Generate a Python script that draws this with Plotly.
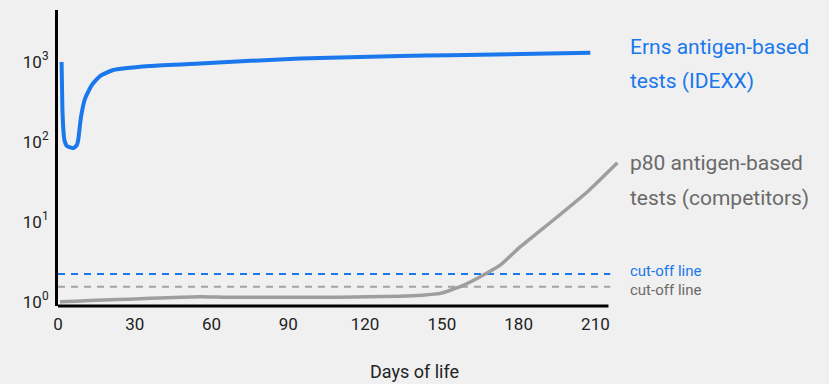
import plotly.graph_objects as go

# ---- data ----
erns_days = [1.4, 1.7, 2.1, 2.5, 3.5, 6.0, 7.4, 7.9, 9.0, 10.6, 13.2, 16.4, 21.6, 36, 55.5, 94.6, 133.7, 153.3, 208]
erns_vals = [990, 274, 140, 105, 88, 83, 91, 105, 205, 347, 510, 660, 788, 883, 952, 1097, 1176, 1205, 1294]

p80_days = [0.8, 55.5, 66, 110, 133.7, 142.4, 149.4, 157.2, 165, 172.9, 180.7, 193.6, 206.9, 218.6]
p80_vals = [1.0, 1.155, 1.135, 1.14, 1.168, 1.205, 1.27, 1.54, 2.05, 2.88, 4.87, 10.5, 23.7, 54.6]

cutoff_days = [0, 215.8]
erns_cutoff = 2.22
p80_cutoff = 1.54

x_ticks = [0, 30, 60, 90, 120, 150, 180, 210]
y_ticks = [1, 10, 100, 1000]
y_ticktext = ["10<sup>0</sup>", "10<sup>1</sup>", "10<sup>2</sup>", "10<sup>3</sup>"]

BLUE = "#1a78ec"
GRAY = "#9e9e9e"
GRAY_TXT = "#6a6a6a"
FONT = "Roboto"

fig = go.Figure()
fig.add_trace(go.Scatter(x=cutoff_days, y=[erns_cutoff] * 2, mode="lines",
                         line=dict(color=BLUE, width=2, dash="7px,6px"), hoverinfo="skip"))
fig.add_trace(go.Scatter(x=cutoff_days, y=[p80_cutoff] * 2, mode="lines",
                         line=dict(color="#a3a3a3", width=2, dash="7px,6px"), hoverinfo="skip"))
fig.add_trace(go.Scatter(x=p80_days, y=p80_vals, mode="lines",
                         line=dict(color=GRAY, width=3.5, shape="spline", smoothing=0.4)))
fig.add_trace(go.Scatter(x=erns_days, y=erns_vals, mode="lines",
                         line=dict(color=BLUE, width=4, shape="spline", smoothing=0.5)))

# x-axis line (only to day ~215)
fig.add_shape(type="line", xref="x", yref="paper", x0=-0.6, x1=215.1, y0=0, y1=0,
              line=dict(color="black", width=3))


def py(p):
    return (306 - p) / 296.0


def px(p):
    return (p - 58) / 562.6


annots = [
    ("Erns antigen-based", 47, BLUE, 21),
    ("tests (IDEXX)", 81, BLUE, 21),
    ("p80 antigen-based", 163, GRAY_TXT, 21),
    ("tests (competitors)", 198, GRAY_TXT, 21),
    ("cut-off line", 271, BLUE, 15),
    ("cut-off line", 290, GRAY_TXT, 15),
]
for txt, yy, col, sz in annots:
    fig.add_annotation(text=txt, xref="paper", yref="paper", x=px(628), y=py(yy),
                       xanchor="left", yanchor="middle", showarrow=False,
                       font=dict(family=FONT, size=sz, color=col))

fig.add_annotation(text="Days of life", xref="paper", yref="paper", x=px(414.5), y=py(371),
                   xanchor="center", yanchor="middle", showarrow=False,
                   font=dict(family=FONT, size=18, color="#222222"))

fig.update_layout(
    width=829, height=384,
    margin=dict(l=58, r=208, t=10, b=78),
    paper_bgcolor="#f0f0f0", plot_bgcolor="#f0f0f0",
    showlegend=False,
    font=dict(family=FONT, color="#222222"),
    xaxis=dict(range=[0, 220], tickvals=x_ticks, showgrid=False, zeroline=False,
               showline=False, ticks="", tickfont=dict(size=17, color="#222222"),
               ticklabelstandoff=6),
    yaxis=dict(type="log", range=[-0.054, 3.646], tickvals=y_ticks, ticktext=y_ticktext,
               showgrid=False, zeroline=False, showline=True, linecolor="black", linewidth=3,
               ticks="", tickfont=dict(size=17, color="#222222"), ticklabelstandoff=3),
)

fig.write_html("out.html", config={"displayModeBar": False},
               post_script="document.body.style.margin='0';document.body.style.background='#f0f0f0';")
